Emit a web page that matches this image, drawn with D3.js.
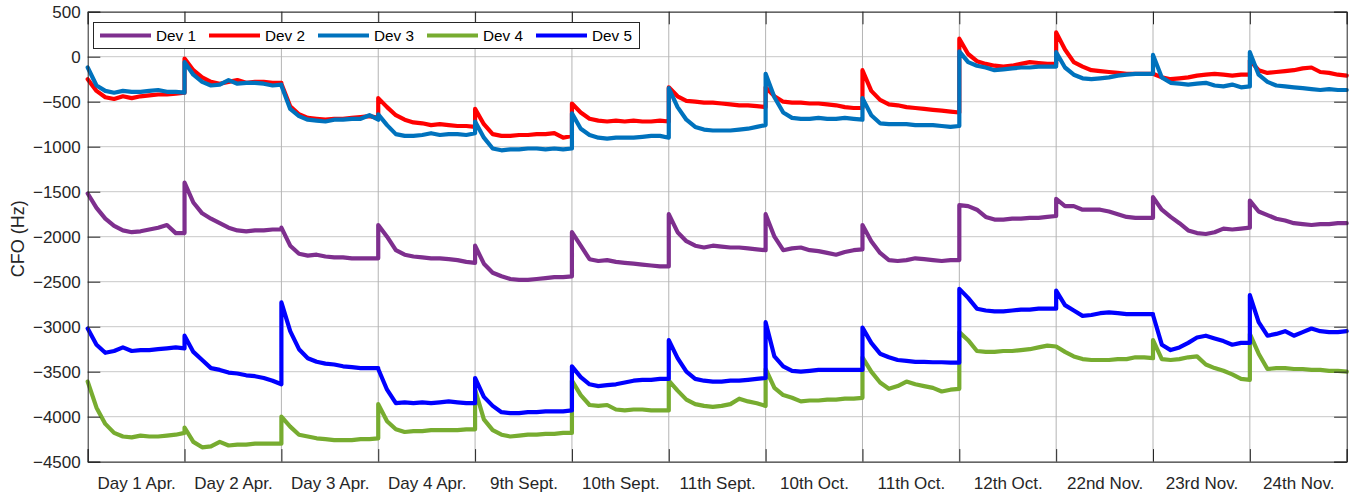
<!DOCTYPE html>
<html><head><meta charset="utf-8">
<script src="https://cdn.jsdelivr.net/npm/d3@7/dist/d3.min.js"></script>
<style>body{margin:0;background:#fff}svg{display:block}</style>
</head><body><svg id="c" width="1353" height="493"></svg>
<script>
const days = ["Day 1 Apr.","Day 2 Apr.","Day 3 Apr.","Day 4 Apr.","9th Sept.","10th Sept.","11th Sept.","10th Oct.","11th Oct.","12th Oct.","22nd Nov.","23rd Nov.","24th Nov."];
const yTicks = [500,0,-500,-1000,-1500,-2000,-2500,-3000,-3500,-4000,-4500];
const devNames = ["Dev 1","Dev 2","Dev 3","Dev 4","Dev 5"];
const devColors = ["#7e2f8e","#ff0000","#0072bd","#77ac30","#0000ff"];

// CFO samples (Hz), 12 samples per recording day
const dev1 = [
 [-1520,-1680,-1800,-1880,-1930,-1950,-1940,-1920,-1900,-1870,-1960,-1960],
 [-1400,-1620,-1740,-1800,-1850,-1900,-1930,-1940,-1930,-1930,-1920,-1920],
 [-1900,-2100,-2190,-2210,-2200,-2220,-2230,-2230,-2240,-2240,-2240,-2240],
 [-1870,-2000,-2150,-2200,-2220,-2230,-2240,-2240,-2250,-2260,-2280,-2290],
 [-2100,-2300,-2400,-2440,-2470,-2480,-2480,-2470,-2460,-2450,-2450,-2440],
 [-1950,-2100,-2250,-2270,-2260,-2280,-2290,-2300,-2310,-2320,-2330,-2330],
 [-1750,-1950,-2050,-2100,-2120,-2100,-2110,-2120,-2120,-2130,-2140,-2150],
 [-1750,-2000,-2150,-2130,-2120,-2150,-2160,-2180,-2200,-2170,-2150,-2140],
 [-1870,-2050,-2180,-2260,-2270,-2260,-2240,-2250,-2260,-2270,-2260,-2260],
 [-1650,-1660,-1700,-1780,-1810,-1810,-1800,-1800,-1790,-1790,-1780,-1770],
 [-1580,-1660,-1660,-1700,-1700,-1700,-1720,-1750,-1780,-1790,-1790,-1790],
 [-1560,-1700,-1780,-1850,-1930,-1960,-1970,-1950,-1910,-1920,-1910,-1900],
 [-1600,-1720,-1760,-1800,-1820,-1850,-1860,-1870,-1860,-1860,-1850,-1850]
];
const dev2 = [
 [-250,-380,-450,-470,-440,-460,-440,-430,-420,-420,-410,-400],
 [-20,-150,-230,-280,-300,-280,-260,-290,-280,-280,-290,-290],
 [-300,-550,-640,-680,-690,-700,-690,-690,-680,-670,-660,-680],
 [-460,-560,-650,-700,-730,-740,-760,-750,-760,-770,-770,-780],
 [-580,-750,-860,-880,-880,-870,-870,-860,-860,-850,-900,-880],
 [-520,-620,-690,-710,-720,-710,-720,-710,-720,-720,-710,-720],
 [-340,-440,-490,-500,-510,-510,-520,-530,-540,-540,-550,-560],
 [-340,-440,-500,-510,-510,-520,-520,-530,-540,-560,-570,-570],
 [-150,-380,-480,-530,-540,-560,-570,-580,-590,-600,-610,-620],
 [200,30,-50,-80,-100,-110,-100,-80,-60,-70,-80,-80],
 [270,80,-60,-110,-150,-160,-170,-180,-190,-190,-190,-190],
 [-190,-230,-250,-240,-230,-210,-200,-190,-200,-210,-200,-200],
 [-40,-150,-180,-170,-160,-150,-130,-120,-170,-180,-200,-210]
];
const dev3 = [
 [-120,-320,-380,-400,-380,-390,-390,-380,-370,-390,-390,-400],
 [-60,-200,-280,-320,-310,-260,-300,-290,-290,-300,-320,-310],
 [-320,-580,-660,-700,-710,-720,-700,-700,-690,-690,-650,-700],
 [-640,-760,-860,-880,-880,-870,-850,-870,-860,-860,-870,-850],
 [-720,-900,-1020,-1040,-1030,-1030,-1020,-1020,-1030,-1020,-1030,-1020],
 [-630,-800,-870,-900,-910,-900,-900,-900,-890,-880,-880,-900],
 [-350,-560,-700,-780,-810,-820,-820,-820,-810,-800,-780,-760],
 [-190,-450,-620,-680,-690,-690,-680,-690,-690,-680,-690,-700],
 [-460,-650,-740,-750,-750,-750,-760,-760,-760,-770,-780,-770],
 [60,-60,-100,-120,-150,-140,-130,-120,-120,-110,-110,-110],
 [50,-120,-200,-240,-250,-240,-230,-210,-200,-190,-190,-190],
 [20,-230,-290,-300,-310,-300,-290,-320,-330,-310,-340,-330],
 [50,-200,-280,-320,-330,-340,-350,-360,-370,-360,-370,-370]
];
const dev4 = [
 [-3610,-3900,-4080,-4180,-4220,-4230,-4210,-4220,-4220,-4210,-4200,-4180],
 [-4120,-4280,-4340,-4330,-4280,-4320,-4310,-4310,-4300,-4300,-4300,-4300],
 [-4000,-4110,-4200,-4220,-4240,-4250,-4260,-4260,-4260,-4250,-4250,-4240],
 [-3860,-4050,-4140,-4170,-4160,-4160,-4150,-4150,-4150,-4150,-4140,-4140],
 [-3700,-4030,-4150,-4200,-4220,-4210,-4200,-4200,-4190,-4190,-4180,-4180],
 [-3600,-3760,-3870,-3880,-3870,-3920,-3930,-3920,-3920,-3930,-3930,-3930],
 [-3600,-3710,-3810,-3860,-3880,-3890,-3880,-3860,-3800,-3830,-3850,-3880],
 [-3470,-3680,-3760,-3790,-3830,-3820,-3820,-3810,-3810,-3800,-3800,-3790],
 [-3340,-3500,-3620,-3690,-3660,-3610,-3640,-3660,-3680,-3720,-3700,-3690],
 [-3060,-3150,-3270,-3280,-3280,-3270,-3270,-3260,-3250,-3230,-3210,-3220],
 [-3220,-3280,-3330,-3360,-3370,-3370,-3370,-3360,-3360,-3340,-3340,-3350],
 [-3150,-3360,-3370,-3360,-3340,-3330,-3420,-3460,-3490,-3530,-3580,-3590],
 [-3080,-3300,-3470,-3460,-3460,-3470,-3470,-3480,-3480,-3490,-3490,-3500]
];
const dev5 = [
 [-3020,-3200,-3290,-3270,-3230,-3270,-3260,-3260,-3250,-3240,-3230,-3240],
 [-3100,-3280,-3370,-3460,-3480,-3510,-3520,-3540,-3550,-3570,-3600,-3640],
 [-2730,-3050,-3250,-3350,-3390,-3410,-3420,-3440,-3450,-3460,-3460,-3460],
 [-3470,-3700,-3850,-3840,-3850,-3840,-3850,-3840,-3830,-3840,-3850,-3850],
 [-3570,-3780,-3880,-3950,-3960,-3960,-3950,-3950,-3940,-3940,-3940,-3930],
 [-3440,-3560,-3640,-3660,-3650,-3640,-3620,-3600,-3590,-3590,-3580,-3580],
 [-3150,-3350,-3500,-3580,-3600,-3610,-3610,-3600,-3600,-3590,-3580,-3570],
 [-2950,-3330,-3440,-3490,-3500,-3490,-3480,-3480,-3480,-3480,-3480,-3480],
 [-3010,-3180,-3300,-3340,-3370,-3380,-3390,-3390,-3395,-3395,-3400,-3400],
 [-2580,-2680,-2800,-2820,-2830,-2830,-2820,-2810,-2810,-2800,-2800,-2800],
 [-2600,-2760,-2820,-2880,-2870,-2850,-2840,-2850,-2860,-2860,-2860,-2860],
 [-2870,-3200,-3260,-3230,-3180,-3120,-3100,-3130,-3160,-3200,-3180,-3180],
 [-2650,-2950,-3100,-3080,-3050,-3100,-3060,-3020,-3050,-3060,-3060,-3050]
];
const devs = [dev1, dev2, dev3, dev4, dev5];

const svg = d3.select("#c");
const L = 87.7, R = 1346.7, T = 11.7, B = 461.7;
const x = d3.scaleLinear().domain([0, days.length]).range([L, R]);
const y = d3.scaleLinear().domain([-4500, 500]).range([B, T]);
const font = "'Liberation Sans', Arial, Helvetica, sans-serif";
const ink = "#262626";

// grid
const g = svg.append("g");
g.selectAll("line.h").data(yTicks).join("line")
  .attr("x1", L).attr("x2", R).attr("y1", d => y(d)).attr("y2", d => y(d))
  .attr("stroke", "#c8c8c8").attr("stroke-width", 1);
g.selectAll("line.v").data(d3.range(1, days.length)).join("line")
  .attr("y1", T).attr("y2", B).attr("x1", d => x(d)).attr("x2", d => x(d))
  .attr("stroke", "#b4b4b4").attr("stroke-width", 1);

// series
const line = d3.line().x(d => x(d[0])).y(d => y(d[1]));
devs.forEach((dev, i) => {
  const pts = [];
  dev.forEach((seg, s) => seg.forEach((v, j) => pts.push([s + j / (seg.length - 1), v])));
  svg.append("path").datum(pts).attr("d", line)
    .attr("fill", "none").attr("stroke", devColors[i]).attr("stroke-width", 4.2)
    .attr("stroke-linejoin", "round").attr("stroke-linecap", "round");
});

// axes
const tl = 12.6;
const ay = svg.append("g").attr("transform", `translate(${L},0)`)
  .call(d3.axisLeft(y).tickValues(yTicks).tickSize(-tl).tickPadding(7).tickFormat(d3.format("d")));
const ay2 = svg.append("g").attr("transform", `translate(${R},0)`)
  .call(d3.axisRight(y).tickValues(yTicks).tickSize(-tl).tickFormat(""));
const ax = svg.append("g").attr("transform", `translate(0,${B})`)
  .call(d3.axisBottom(x).tickValues(d3.range(0, days.length + 1)).tickSize(-tl).tickFormat(""));
const ax2 = svg.append("g").attr("transform", `translate(0,${T})`)
  .call(d3.axisTop(x).tickValues(d3.range(0, days.length + 1)).tickSize(-tl).tickFormat(""));
const axl = svg.append("g").attr("transform", `translate(0,${B})`)
  .call(d3.axisBottom(x).tickValues(days.map((d, i) => i + 0.5)).tickSize(0).tickPadding(15)
    .tickFormat((d, i) => days[i]));
axl.select(".domain").remove();
[ay, ay2, ax, ax2, axl].forEach(a => {
  a.selectAll("path.domain").attr("stroke", ink).attr("stroke-width", 1);
  a.selectAll(".tick line").attr("stroke", ink).attr("stroke-width", 1);
  a.selectAll("text").attr("fill", ink).style("font-family", font).style("font-size", "17px");
});

// y label
svg.append("text").attr("transform", `translate(24,${(T + B) / 2 + 2}) rotate(-90)`)
  .attr("text-anchor", "middle").attr("fill", ink)
  .style("font-family", font).style("font-size", "18px").text("CFO (Hz)");

// legend
const lg = svg.append("g");
lg.append("rect").attr("x", 93.5).attr("y", 22.5).attr("width", 546).attr("height", 26)
  .attr("fill", "#fff").attr("stroke", ink).attr("stroke-width", 1);
devNames.forEach((n, i) => {
  const x0 = 100 + i * 109;
  lg.append("line").attr("x1", x0).attr("x2", x0 + 51).attr("y1", 35.5).attr("y2", 35.5)
    .attr("stroke", devColors[i]).attr("stroke-width", 4);
  lg.append("text").attr("x", x0 + 56).attr("y", 41).attr("fill", "#000")
    .style("font-family", font).style("font-size", "15.3px").text(n);
});
</script></body></html>
